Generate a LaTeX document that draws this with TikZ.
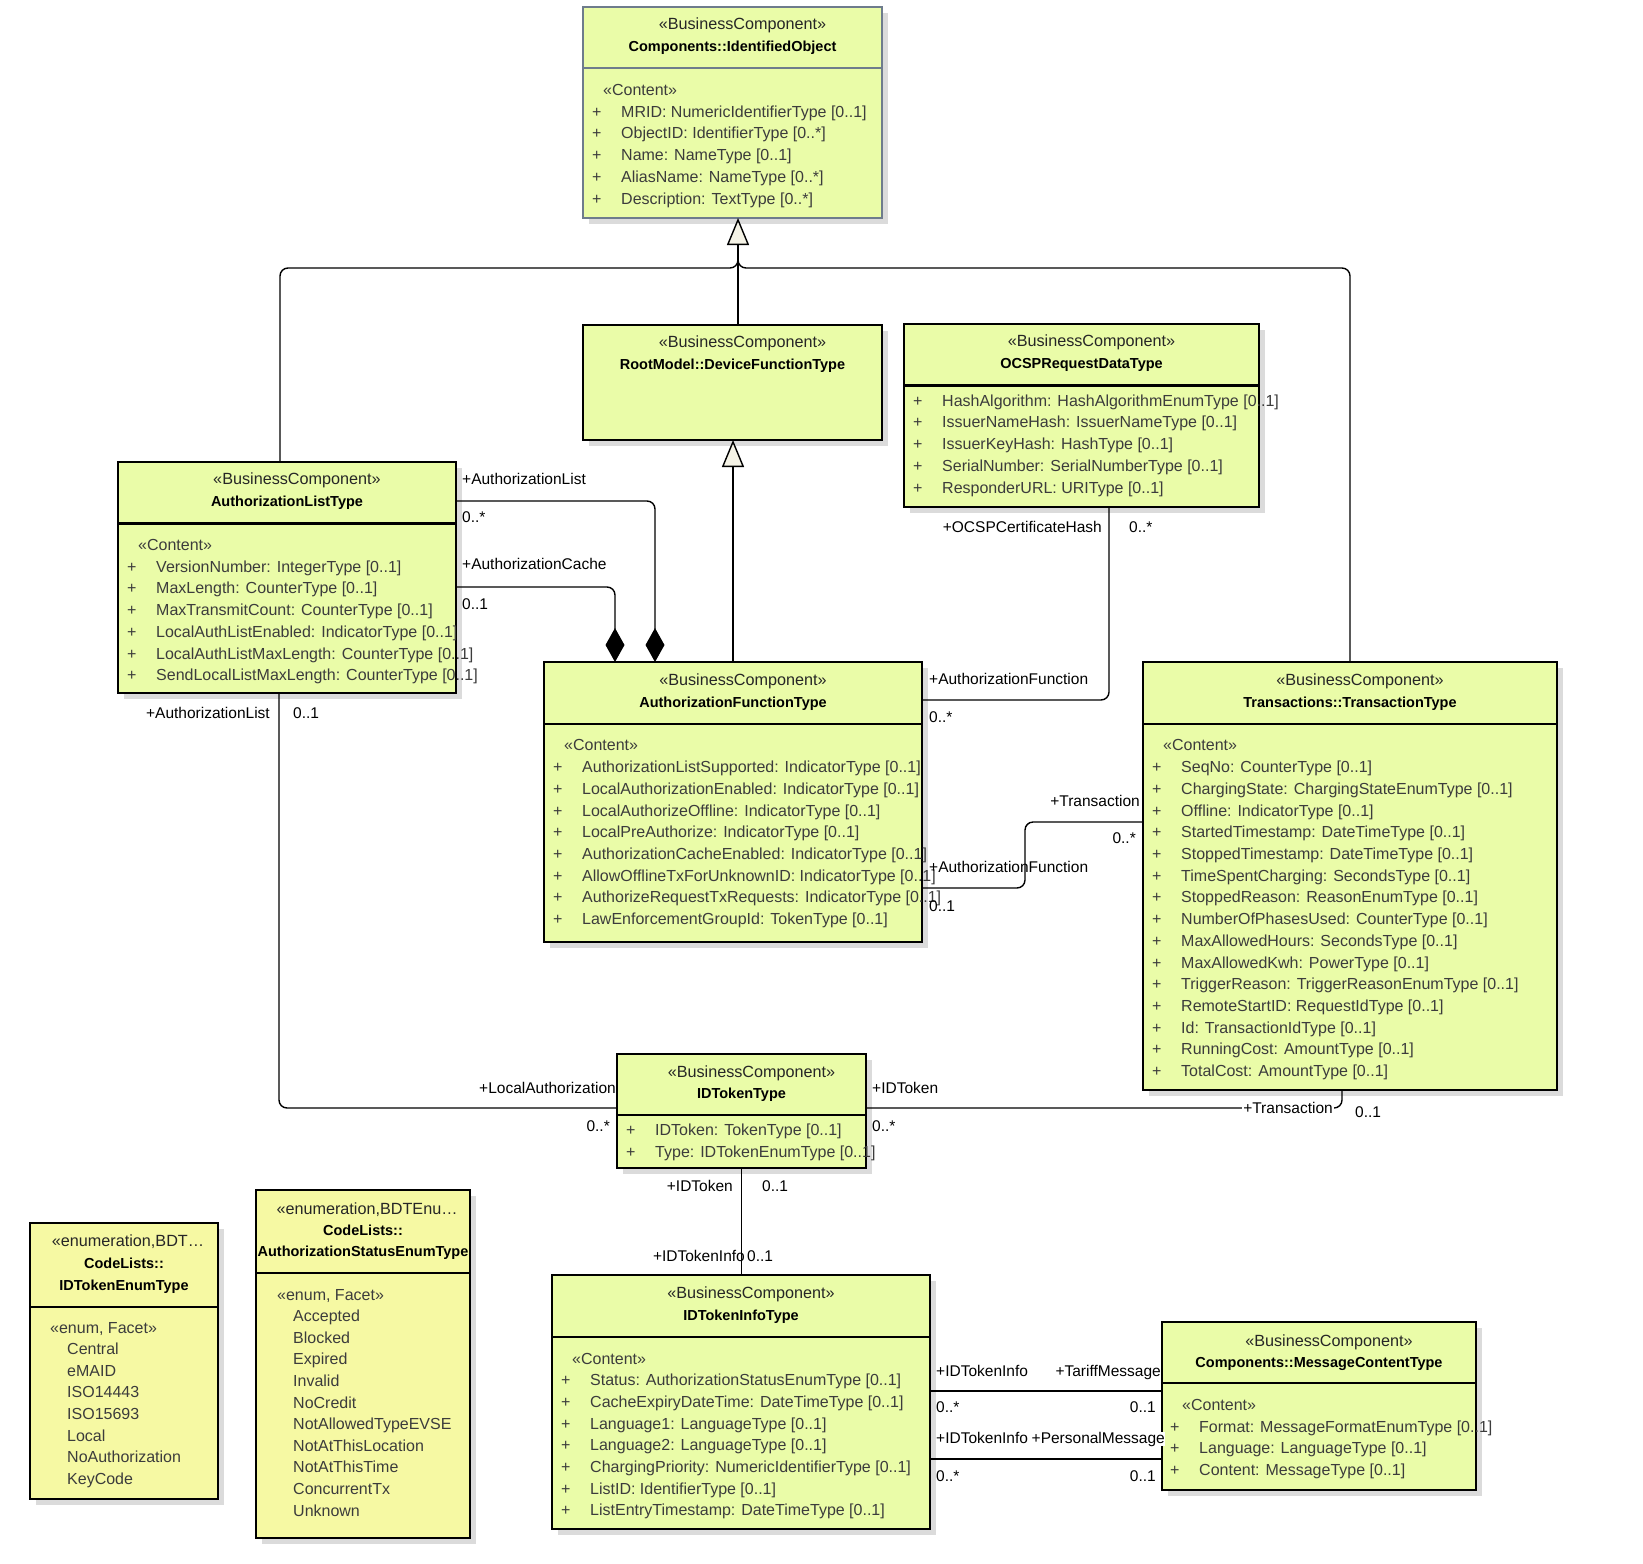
\documentclass[tikz,border=0pt]{standalone}
\usepackage{fontspec}
\setmainfont{Liberation Sans}
\usetikzlibrary{arrows.meta,shadows}

\definecolor{bcfill}{HTML}{EAFCA8}
\definecolor{enumfill}{HTML}{F6F9A3}
\definecolor{idoline}{HTML}{6E7C8C}
\definecolor{attrtext}{HTML}{3C3C3C}
\definecolor{genfill}{HTML}{F5F3E6}

\tikzset{
	bcbox/.style={draw=black, line width=2.2pt, fill=bcfill, anchor=north west, inner sep=0pt, outer sep=0pt,
		drop shadow={shadow xshift=6pt, shadow yshift=-6pt, fill=black!14, opacity=1}},
	enumbox/.style={bcbox, fill=enumfill},
	rule/.style={line width=2.2pt},
	stereo/.style={font=\fontsize{16.2}{18}\selectfont, text=black!85, inner sep=0pt, text height=11pt, text depth=3pt},
	cname/.style={font=\fontsize{14.5}{18}\selectfont\bfseries, inner sep=0pt, text height=11pt, text depth=3pt},
	attr/.style={font=\fontsize{16}{18}\selectfont, text=attrtext, anchor=west, inner sep=0pt, text height=11pt, text depth=3pt},
	lbl/.style={font=\fontsize{15.5}{18}\selectfont, inner sep=0pt, text height=11pt, text depth=3pt},
	conn/.style={line width=1.4pt, rounded corners=8pt},
	gen/.style={conn, -{Triangle[length=27pt,width=22pt,fill=genfill]}},
	comp/.style={conn, -{Diamond[length=34pt,width=19pt]}},
}

\begin{document}
\begin{tikzpicture}[x=1pt,y=-1pt]
	\fill[white] (0,0) rectangle (1643,1563);

	% IDENTIFIED OBJECT
	\node[bcbox, draw=idoline, line width=2pt, minimum width=299pt, minimum height=211pt] (ido) at (583,7) {};
	\draw[rule, draw=idoline, line width=2pt] ([yshift=-61.5pt]ido.north west) -- ([yshift=-61.5pt]ido.north east);
	\node[stereo] (ido-st) at ([xshift=10pt,yshift=-18.5pt]ido.north) {«BusinessComponent»};
	\node[cname] (ido-nm) at ([yshift=-40.5pt]ido.north) {Components::IdentifiedObject};
	\node[attr] (ido-ct) at ([xshift=20pt,yshift=-84pt]ido.north west) {«Content»};
	\foreach \a [count=\i] in {MRID: NumericIdentifierType [0..1], ObjectID: IdentifierType [0..*],
		Name: NameType [0..1], AliasName: NameType [0..*], Description: TextType [0..*]}
		\node[attr] (ido-a\i) at ([xshift=9pt,yshift={-84.5pt-21.7pt*\i}]ido.north west) {\makebox[29pt][l]{+}\a};

	% DEVICE FUNCTION
	\node[bcbox, minimum width=299pt, minimum height=115pt] (dft) at (583,325) {};
	\node[stereo] (dft-st) at ([xshift=10pt,yshift=-18.5pt]dft.north) {«BusinessComponent»};
	\node[cname] (dft-nm) at ([yshift=-40.5pt]dft.north) {RootModel::DeviceFunctionType};

	% OCSP REQUEST DATA
	\node[bcbox, minimum width=355pt, minimum height=183pt] (ocsp) at (904,324) {};
	\draw[rule] ([yshift=-61.5pt]ocsp.north west) -- ([yshift=-61.5pt]ocsp.north east);
	\node[stereo] (ocsp-st) at ([xshift=10pt,yshift=-18.5pt]ocsp.north) {«BusinessComponent»};
	\node[cname] (ocsp-nm) at ([yshift=-40.5pt]ocsp.north) {OCSPRequestDataType};
	\foreach \a [count=\i] in {HashAlgorithm: HashAlgorithmEnumType [0..1], IssuerNameHash: IssuerNameType [0..1],
		IssuerKeyHash: HashType [0..1], SerialNumber: SerialNumberType [0..1], ResponderURL: URIType [0..1]}
		\node[attr] (ocsp-a\i) at ([xshift=9pt,yshift={-56.5pt-21.7pt*\i}]ocsp.north west) {\makebox[29pt][l]{+}\a};

	% AUTHORIZATION LIST
	\node[bcbox, minimum width=338pt, minimum height=231pt] (alt) at (118,462) {};
	\draw[rule] ([yshift=-61.5pt]alt.north west) -- ([yshift=-61.5pt]alt.north east);
	\node[stereo] (alt-st) at ([xshift=10pt,yshift=-18.5pt]alt.north) {«BusinessComponent»};
	\node[cname] (alt-nm) at ([yshift=-40.5pt]alt.north) {AuthorizationListType};
	\node[attr] (alt-ct) at ([xshift=20pt,yshift=-84pt]alt.north west) {«Content»};
	\foreach \a [count=\i] in {VersionNumber: IntegerType [0..1], MaxLength: CounterType [0..1],
		MaxTransmitCount: CounterType [0..1], LocalAuthListEnabled: IndicatorType [0..1],
		LocalAuthListMaxLength: CounterType [0..1], SendLocalListMaxLength: CounterType [0..1]}
		\node[attr] (alt-a\i) at ([xshift=9pt,yshift={-84.5pt-21.7pt*\i}]alt.north west) {\makebox[29pt][l]{+}\a};

	% AUTHORIZATION FUNCTION
	\node[bcbox, minimum width=378pt, minimum height=280pt] (aft) at (544,662) {};
	\draw[rule] ([yshift=-62pt]aft.north west) -- ([yshift=-62pt]aft.north east);
	\node[stereo] (aft-st) at ([xshift=10pt,yshift=-19pt]aft.north) {«BusinessComponent»};
	\node[cname] (aft-nm) at ([yshift=-41pt]aft.north) {AuthorizationFunctionType};
	\node[attr] (aft-ct) at ([xshift=20pt,yshift=-84.5pt]aft.north west) {«Content»};
	\foreach \a [count=\i] in {AuthorizationListSupported: IndicatorType [0..1], LocalAuthorizationEnabled: IndicatorType [0..1],
		LocalAuthorizeOffline: IndicatorType [0..1], LocalPreAuthorize: IndicatorType [0..1],
		AuthorizationCacheEnabled: IndicatorType [0..1], AllowOfflineTxForUnknownID: IndicatorType [0..1],
		AuthorizeRequestTxRequests: IndicatorType [0..1], LawEnforcementGroupId: TokenType [0..1]}
		\node[attr] (aft-a\i) at ([xshift=9pt,yshift={-85pt-21.7pt*\i}]aft.north west) {\makebox[29pt][l]{+}\a};

	% TRANSACTION
	\node[bcbox, minimum width=414pt, minimum height=428pt] (tt) at (1143,662) {};
	\draw[rule] ([yshift=-62pt]tt.north west) -- ([yshift=-62pt]tt.north east);
	\node[stereo] (tt-st) at ([xshift=10pt,yshift=-19pt]tt.north) {«BusinessComponent»};
	\node[cname] (tt-nm) at ([yshift=-41pt]tt.north) {Transactions::TransactionType};
	\node[attr] (tt-ct) at ([xshift=20pt,yshift=-84.5pt]tt.north west) {«Content»};
	\foreach \a [count=\i] in {SeqNo: CounterType [0..1], ChargingState: ChargingStateEnumType [0..1],
		Offline: IndicatorType [0..1], StartedTimestamp: DateTimeType [0..1], StoppedTimestamp: DateTimeType [0..1],
		TimeSpentCharging: SecondsType [0..1], StoppedReason: ReasonEnumType [0..1],
		NumberOfPhasesUsed: CounterType [0..1], MaxAllowedHours: SecondsType [0..1], MaxAllowedKwh: PowerType [0..1],
		TriggerReason: TriggerReasonEnumType [0..1], RemoteStartID: RequestIdType [0..1],
		Id: TransactionIdType [0..1], RunningCost: AmountType [0..1], TotalCost: AmountType [0..1]}
		\node[attr] (tt-a\i) at ([xshift=9pt,yshift={-85pt-21.7pt*\i}]tt.north west) {\makebox[29pt][l]{+}\a};

	% ID TOKEN
	\node[bcbox, minimum width=249pt, minimum height=114pt] (idt) at (617,1054) {};
	\draw[rule] ([yshift=-61pt]idt.north west) -- ([yshift=-61pt]idt.north east);
	\node[stereo] (idt-st) at ([xshift=10pt,yshift=-19pt]idt.north) {«BusinessComponent»};
	\node[cname] (idt-nm) at ([yshift=-40.5pt]idt.north) {IDTokenType};
	\foreach \a [count=\i] in {IDToken: TokenType [0..1], Type: IDTokenEnumType [0..1]}
		\node[attr] (idt-a\i) at ([xshift=9pt,yshift={-56pt-21.7pt*\i}]idt.north west) {\makebox[29pt][l]{+}\a};

	% ID TOKEN INFO
	\node[bcbox, minimum width=378pt, minimum height=254pt] (idti) at (552,1275) {};
	\draw[rule] ([yshift=-62pt]idti.north west) -- ([yshift=-62pt]idti.north east);
	\node[stereo] (idti-st) at ([xshift=10pt,yshift=-19pt]idti.north) {«BusinessComponent»};
	\node[cname] (idti-nm) at ([yshift=-41pt]idti.north) {IDTokenInfoType};
	\node[attr] (idti-ct) at ([xshift=20pt,yshift=-85pt]idti.north west) {«Content»};
	\foreach \a [count=\i] in {Status: AuthorizationStatusEnumType [0..1], CacheExpiryDateTime: DateTimeType [0..1],
		Language1: LanguageType [0..1], Language2: LanguageType [0..1],
		ChargingPriority: NumericIdentifierType [0..1], ListID: IdentifierType [0..1],
		ListEntryTimestamp: DateTimeType [0..1]}
		\node[attr] (idti-a\i) at ([xshift=9pt,yshift={-85pt-21.7pt*\i}]idti.north west) {\makebox[29pt][l]{+}\a};

	% MESSAGE CONTENT
	\node[bcbox, minimum width=314pt, minimum height=168pt] (mct) at (1162,1322) {};
	\draw[rule] ([yshift=-61pt]mct.north west) -- ([yshift=-61pt]mct.north east);
	\node[stereo] (mct-st) at ([xshift=10pt,yshift=-20pt]mct.north) {«BusinessComponent»};
	\node[cname] (mct-nm) at ([yshift=-41pt]mct.north) {Components::MessageContentType};
	\node[attr] (mct-ct) at ([xshift=20pt,yshift=-84pt]mct.north west) {«Content»};
	\foreach \a [count=\i] in {Format: MessageFormatEnumType [0..1], Language: LanguageType [0..1],
		Content: MessageType [0..1]}
		\node[attr] (mct-a\i) at ([xshift=8pt,yshift={-84.5pt-21.7pt*\i}]mct.north west) {\makebox[29pt][l]{+}\a};

	% ID TOKEN ENUM
	\node[enumbox, minimum width=188pt, minimum height=276pt] (ete) at (30,1223) {};
	\draw[rule] ([yshift=-84pt]ete.north west) -- ([yshift=-84pt]ete.north east);
	\node[stereo] (ete-st) at ([xshift=4pt,yshift=-19pt]ete.north) {«enumeration,BDT…};
	\node[cname] (ete-nm1) at ([yshift=-41pt]ete.north) {CodeLists::};
	\node[cname] (ete-nm2) at ([yshift=-63pt]ete.north) {IDTokenEnumType};
	\node[attr] (ete-ct) at ([xshift=20pt,yshift=-106pt]ete.north west) {«enum, Facet»};
	\foreach \a [count=\i] in {Central, eMAID, ISO14443, ISO15693, Local, NoAuthorization, KeyCode}
		\node[attr] (ete-v\i) at ([xshift=37pt,yshift={-106pt-21.6pt*\i}]ete.north west) {\a};

	% AUTHORIZATION STATUS ENUM
	\node[enumbox, minimum width=214pt, minimum height=348pt] (ase) at (256,1190) {};
	\draw[rule] ([yshift=-83pt]ase.north west) -- ([yshift=-83pt]ase.north east);
	\node[stereo] (ase-st) at ([xshift=4pt,yshift=-20pt]ase.north) {«enumeration,BDTEnu…};
	\node[cname] (ase-nm1) at ([yshift=-41pt]ase.north) {CodeLists::};
	\node[cname] (ase-nm2) at ([yshift=-62pt]ase.north) {AuthorizationStatusEnumType};
	\node[attr] (ase-ct) at ([xshift=21pt,yshift=-106pt]ase.north west) {«enum, Facet»};
	\foreach \a [count=\i] in {Accepted, Blocked, Expired, Invalid, NoCredit, NotAllowedTypeEVSE,
		NotAtThisLocation, NotAtThisTime, ConcurrentTx, Unknown}
		\node[attr] (ase-v\i) at ([xshift=37pt,yshift={-106pt-21.6pt*\i}]ase.north west) {\a};

	% GENERALIZATIONS
	\draw[gen] ([xshift=5.5pt]dft.north) -- ([xshift=5.5pt]ido.south);
	\draw[conn] ([xshift=-7pt]alt.north) |- ([xshift=5.5pt,yshift=-50pt]ido.south) -- ([xshift=5.5pt,yshift=-36pt]ido.south);
	\draw[conn] (tt.north) |- ([xshift=5.5pt,yshift=-50pt]ido.south) -- ([xshift=5.5pt,yshift=-36pt]ido.south);
	\draw[gen] (aft.north) -- (aft.north |- dft.south);

	% COMPOSITIONS
	\draw[comp] ([yshift=-39pt]alt.north east) -| ([xshift=-78pt]aft.north);
	\draw[comp] ([yshift=-125pt]alt.north east) -| ([xshift=-118pt]aft.north);
	\node[lbl, anchor=west] (al-role) at (462,480) {+AuthorizationList};
	\node[lbl, anchor=west] (al-mult) at (462,518) {0..*};
	\node[lbl, anchor=west] (ac-role) at (462,565) {+AuthorizationCache};
	\node[lbl, anchor=west] (ac-mult) at (462,605) {0..1};

	% OCSP - AUTHORIZATION FUNCTION
	\draw[conn] ([xshift=27.5pt]ocsp.south) |- ([yshift=-38pt]aft.north east);
	\node[lbl, anchor=east] (oc-role) at (1102,528) {+OCSPCertificateHash};
	\node[lbl, anchor=west] (oc-mult) at (1129,528) {0..*};
	\node[lbl, anchor=west] (oa-role) at (929,680) {+AuthorizationFunction};
	\node[lbl, anchor=west] (oa-mult) at (929,718) {0..*};

	% TRANSACTION - AUTHORIZATION FUNCTION
	\draw[conn] ([yshift=-160pt]tt.north west) -| ([xshift=103pt,yshift=-226pt]aft.north east) -- ([yshift=-226pt]aft.north east);
	\node[lbl, anchor=east] (ta-role) at (1140,802) {+Transaction};
	\node[lbl, anchor=east] (ta-mult) at (1136,839) {0..*};
	\node[lbl, anchor=west] (at-role) at (929,868) {+AuthorizationFunction};
	\node[lbl, anchor=west] (at-mult) at (929,907) {0..1};

	% AUTHORIZATION LIST - ID TOKEN
	\draw[conn] ([xshift=-8pt]alt.south) |- ([yshift=-54pt]idt.north west);
	\node[lbl, anchor=east] (li-role) at (270,714) {+AuthorizationList};
	\node[lbl, anchor=west] (li-mult) at (293,714) {0..1};
	\node[lbl, anchor=east] (il-role) at (616,1089) {+LocalAuthorization};
	\node[lbl, anchor=east] (il-mult) at (610,1127) {0..*};

	% ID TOKEN - TRANSACTION
	\draw[conn] ([yshift=-54pt]idt.north east) -| ([xshift=-8pt]tt.south);
	\node[lbl, anchor=west] (it-role) at (872,1089) {+IDToken};
	\node[lbl, anchor=west] (it-mult) at (872,1127) {0..*};
	\node[lbl, fill=white, inner xsep=1pt] (ti-role) at (1288,1109) {+Transaction};
	\node[lbl, anchor=west] (ti-mult) at (1355,1113) {0..1};

	% ID TOKEN - ID TOKEN INFO
	\draw[conn] (idt.south) -- (idt.south |- idti.north);
	\node[lbl, anchor=east] (ii-role) at (733,1187) {+IDToken};
	\node[lbl, anchor=west] (ii-mult) at (762,1187) {0..1};
	\node[lbl, anchor=east] (in-role) at (745,1257) {+IDTokenInfo};
	\node[lbl, anchor=west] (in-mult) at (747,1257) {0..1};

	% ID TOKEN INFO - MESSAGE CONTENT
	\coordinate (tm) at ([yshift=-116pt]idti.north east);
	\coordinate (pm) at ([yshift=-184pt]idti.north east);
	\draw[conn] (tm) -- (tm -| mct.west);
	\draw[conn] (pm) -- (pm -| mct.west);
	\node[lbl, anchor=west] (tm-src) at (936,1372) {+IDTokenInfo};
	\node[lbl, anchor=east] (tm-role) at (1161,1372) {+TariffMessage};
	\node[lbl, anchor=west] (tm-smult) at (936,1408) {0..*};
	\node[lbl, anchor=east] (tm-mult) at (1156,1408) {0..1};
	\node[lbl, anchor=west] (pm-src) at (936,1439) {+IDTokenInfo};
	\node[lbl, anchor=west, fill=white, inner xsep=0.5pt] (pm-role) at (1031,1439) {+PersonalMessage};
	\node[lbl, anchor=west] (pm-smult) at (936,1477) {0..*};
	\node[lbl, anchor=east] (pm-mult) at (1156,1477) {0..1};
\end{tikzpicture}
\end{document}
